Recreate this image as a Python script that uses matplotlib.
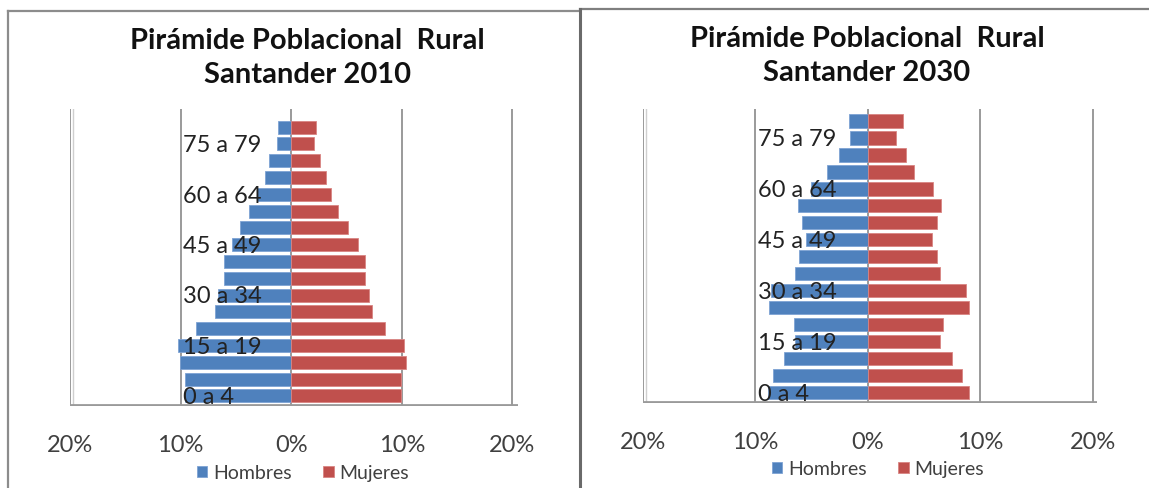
import matplotlib
matplotlib.use("Agg")
import matplotlib.pyplot as plt
from matplotlib.lines import Line2D
import numpy as np

# ------------------------------------------------------------
# DATA (percent of each sex, age groups from youngest to oldest)
# ------------------------------------------------------------

grupos = ["0 a 4", "5 a 9", "10 a 14", "15 a 19", "20 a 24", "25 a 29",
          "30 a 34", "35 a 39", "40 a 44", "45 a 49", "50 a 54", "55 a 59",
          "60 a 64", "65 a 69", "70 a 74", "75 a 79", "80 y más"]
etiquetas_visibles = ["0 a 4", "15 a 19", "30 a 34", "45 a 49", "60 a 64", "75 a 79"]

hombres_2010 = [9.6, 9.6, 10.1, 10.2, 8.6, 6.9, 6.6, 6.1, 6.1, 5.4, 4.6, 3.8,
                3.1, 2.4, 2.0, 1.3, 1.2]
mujeres_2010 = [9.9, 9.9, 10.4, 10.2, 8.5, 7.3, 7.0, 6.7, 6.7, 6.0, 5.1, 4.2,
                3.6, 3.1, 2.6, 2.1, 2.2]

hombres_2030 = [8.9, 8.4, 7.5, 6.5, 6.6, 8.8, 8.6, 6.5, 6.1, 5.5, 5.9, 6.2,
                5.1, 3.6, 2.6, 1.6, 1.7]
mujeres_2030 = [9.0, 8.4, 7.5, 6.4, 6.7, 9.0, 8.7, 6.4, 6.1, 5.7, 6.1, 6.5,
                5.8, 4.1, 3.4, 2.5, 3.1]

ticks = [-20, -10, 0, 10, 20]
tick_labels = ["20%", "10%", "0%", "10%", "20%"]

AZUL = "#4F81BD"
ROJO = "#C0504D"
GRIS = "#9a9a9a"
TEXTO = "#404040"

plt.rcParams["font.family"] = ["Lato", "DejaVu Sans"]

W, H = 1149, 489
fig = plt.figure(figsize=(W / 100, H / 100), dpi=100)


def fx(x):
    return x / W


def fy(y):
    return 1 - y / H


# ------------------------------------------------------------
# PANEL FRAMES
# ------------------------------------------------------------

fig.add_artist(Line2D([fx(8), fx(580)], [fy(12), fy(12)], color="#8c8c8c", lw=1.6))
fig.add_artist(Line2D([fx(8), fx(8)], [fy(12), fy(489)], color="#8c8c8c", lw=1.6))
fig.add_artist(Line2D([fx(580), fx(1149)], [fy(10), fy(10)], color="#7f7f7f", lw=1.6))
fig.add_artist(Line2D([fx(580), fx(580)], [fy(10), fy(489)], color="#6a6a6a", lw=2.2))


# ------------------------------------------------------------
# PYRAMID
# ------------------------------------------------------------

def piramide(px_box, ylim, xlim, hombres, mujeres, titulo, title_xy, legend_xy):
    left, top, right, bottom = px_box
    ax = fig.add_axes([fx(left), fy(bottom), (right - left) / W, (bottom - top) / H])
    y = np.arange(len(grupos))
    bh = ax.barh(y, -np.array(hombres), height=0.78, color=AZUL,
                 edgecolor="#7ea3d4", linewidth=0.6, label="Hombres", zorder=3)
    bm = ax.barh(y, mujeres, height=0.78, color=ROJO,
                 edgecolor="#d98583", linewidth=0.6, label="Mujeres", zorder=3)

    ax.set_xlim(*xlim)
    ax.set_ylim(*ylim)

    # walls / grid
    for t in ticks[1:]:
        ax.axvline(t, color=GRIS, lw=1.4, zorder=1)
    ax.axvline(-20, color=GRIS, lw=1.4, zorder=1)
    ax.axvline(-19.75, color="#cfcfcf", lw=1.0, zorder=1)
    ax.axhline(ylim[0] + 0.03, color=GRIS, lw=2.0, zorder=2)

    for s in ax.spines.values():
        s.set_visible(False)

    ax.set_yticks([])
    ax.set_xticks(ticks)
    ax.set_xticklabels(tick_labels, fontsize=17, color=TEXTO)
    ax.tick_params(axis="x", length=0, pad=20)

    for i, g in enumerate(grupos):
        if g in etiquetas_visibles:
            ax.text(-9.8, i - 0.05, g, ha="left", va="center", fontsize=17,
                    color="#222222", zorder=4)

    fig.text(fx(title_xy[0]), fy(title_xy[1]), titulo, ha="center", va="center",
             fontsize=21, fontweight="bold", color="#111111", linespacing=1.4)

    fig.legend(handles=[bh, bm], loc="center",
               bbox_to_anchor=(fx(legend_xy[0]), fy(legend_xy[1])),
               ncol=2, frameon=False, fontsize=14, handlelength=0.55,
               handleheight=0.55, handletextpad=0.3, columnspacing=1.6,
               labelcolor=TEXTO)
    return ax


piramide((70, 110, 518, 407), (-0.6, 17.08), (-20, 20.5),
         hombres_2010, mujeres_2010,
         "Pirámide Poblacional  Rural\nSantander 2010", (307, 58), (303, 474))

piramide((643, 110, 1097, 404), (-0.6, 16.7), (-20, 20.36),
         hombres_2030, mujeres_2030,
         "Pirámide Poblacional  Rural\nSantander 2030", (867, 56), (878, 470))

fig.savefig("out.png", dpi=100)
